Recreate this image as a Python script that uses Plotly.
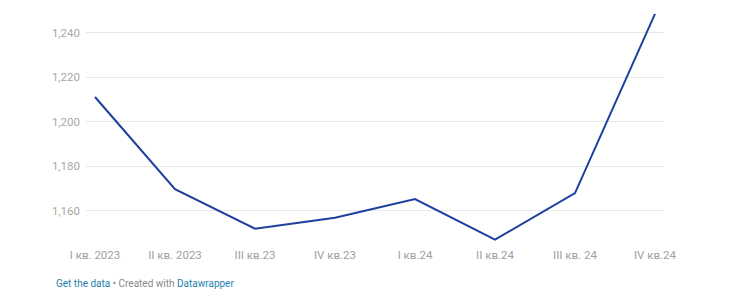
import plotly.graph_objects as go

categories = ["I кв. 2023", "II кв. 2023", "III кв.23", "IV кв.23", "I кв.24", "II кв.24", "III кв. 24", "IV кв.24"]
values = [1211.1, 1169.8, 1152.0, 1156.9, 1165.3, 1147.1, 1168.0, 1248.4]
y_ticks = [1160, 1180, 1200, 1220, 1240]

fig = go.Figure()
fig.add_trace(go.Scatter(
    x=list(range(len(categories))), y=values, mode="lines",
    line=dict(color="#1d3f9e", width=2), hoverinfo="skip"))

fig.update_layout(
    width=732, height=293,
    margin=dict(l=86, r=68, t=13, b=52),
    paper_bgcolor="white", plot_bgcolor="white",
    showlegend=False,
    font=dict(family="Roboto, sans-serif", size=11, color="#a0a0a0"),
    xaxis=dict(
        tickmode="array", tickvals=list(range(len(categories))), ticktext=categories,
        range=[-0.1125, 7.1125], showgrid=False, zeroline=False, showline=False,
        ticks="", tickfont=dict(size=11.5, color="#a0a0a0"), ticklabelstandoff=5),
    yaxis=dict(
        tickmode="array", tickvals=y_ticks, tickformat=",",
        range=[1146.5, 1248.8], showgrid=True, gridcolor="#e8e8e8", gridwidth=1,
        zeroline=False, showline=False, ticks="", ticklabelstandoff=5,
        tickfont=dict(size=11.5, color="#a8a8a8")),
)

plot_w = 732 - 86 - 68
plot_h = 293 - 13 - 52
fig.add_annotation(
    x=(54 - 86) / plot_w, y=(293 - 52 - 283) / plot_h, xref="paper", yref="paper", showarrow=False,
    xanchor="left", yanchor="middle",
    text="<span style='color:#1f7fae'>Get the data</span> • Created with <span style='color:#1f7fae'>Datawrapper</span>",
    font=dict(size=10, color="#888888", family="Roboto, sans-serif"))

fig.write_html("out.html")
